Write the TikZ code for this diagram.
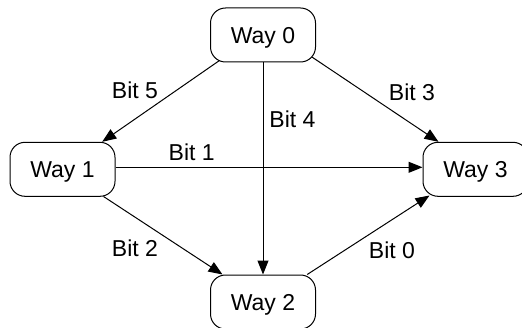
\documentclass[tikz,border=0pt]{standalone}
\usepackage{fontspec}
\setmainfont{Liberation Sans}
\usetikzlibrary{arrows.meta,calc}
\begin{document}
\begin{tikzpicture}[x=1pt,y=1pt,
  waybox/.style={draw, line width=1pt, rounded corners=15pt, minimum width=105pt, minimum height=54pt, inner sep=0pt, font=\fontsize{23}{27}\selectfont, text height=16.5pt, text depth=0pt},
  bitlabel/.style={inner sep=0pt, font=\fontsize{23}{27}\selectfont},
  conn/.style={line width=1pt, -{Triangle[length=14pt,width=11pt]}}]
\useasboundingbox (0,0) rectangle (522,327);
\node[waybox] (w0) at (263,292) {Way 0};
\node[waybox] (w1) at (62.5,157.7) {Way 1};
\node[waybox] (w3) at (475.5,157.7) {Way 3};
\node[waybox] (w2) at (263,25) {Way 2};
\draw[conn] ($(w0.south west)+(9.5,2)$) -- ($(w1.north east)+(-13.3,0)$);
\draw[conn] (w0.south) -- (w2.north);
\draw[conn] ($(w0.south east)+(-3.8,5.3)$) -- ($(w3.north west)+(16,0)$);
\draw[conn] ($(w1.east)+(0,2)$) -- ($(w3.west)+(0,2)$);
\draw[conn] ($(w1.south east)+(-12,0.3)$) -- ($(w2.north west)+(12.5,0)$);
\draw[conn] ($(w2.north east)+(-8.8,0)$) -- ($(w3.south west)+(7,1.3)$);
\node[bitlabel] (b5) at (135,236.3) {Bit 5};
\node[bitlabel] (b3) at (412,234.3) {Bit 3};
\node[bitlabel] (b4) at (292.5,208) {Bit 4};
\node[bitlabel] (b1) at (191.7,174.3) {Bit 1};
\node[bitlabel] (b2) at (135,78.7) {Bit 2};
\node[bitlabel] (b0) at (392,76.3) {Bit 0};
\end{tikzpicture}
\end{document}
